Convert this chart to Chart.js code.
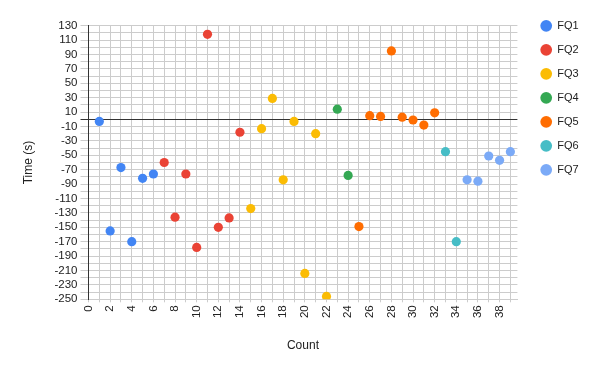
<!DOCTYPE html>
<html>
<head>
<meta charset="utf-8">
<script src="https://cdn.jsdelivr.net/npm/chart.js@4/dist/chart.umd.min.js"></script>
<style>
  html, body { margin: 0; padding: 0; background: #fff; }
  #wrap { width: 600px; height: 371px; position: relative; }
</style>
</head>
<body>
<div id="wrap"><canvas id="c" width="600" height="371"></canvas></div>
<script>
const seriesNames = ['FQ1', 'FQ2', 'FQ3', 'FQ4', 'FQ5', 'FQ6', 'FQ7'];
const seriesColors = ['#4285F4', '#EA4335', '#FBBC04', '#34A853', '#FF6D01', '#46BDC6', '#7BAAF7'];

const fq1Counts = [1, 2, 3, 4, 5, 6];
const fq1Times  = [-3, -155, -67, -170, -82, -76];
const fq2Counts = [7, 8, 9, 10, 11, 12, 13, 14];
const fq2Times  = [-60, -136, -76, -178, 118, -150, -137, -18];
const fq3Counts = [15, 16, 17, 18, 19, 20, 21, 22];
const fq3Times  = [-124, -13, 29, -84, -3, -214, -20, -246];
const fq4Counts = [23, 24];
const fq4Times  = [14, -78];
const fq5Counts = [25, 26, 27, 28, 29, 30, 31, 32];
const fq5Times  = [-149, 5, 4, 95, 3, -1, -8, 9];
const fq6Counts = [33, 34];
const fq6Times  = [-45, -170];
const fq7Counts = [35, 36, 37, 38, 39];
const fq7Times  = [-84, -86, -51, -57, -45];

const xTickLabelStep = 2;   // x labels every 2
const yTickLabelStep = 20;  // y labels every 20
const xTitle = 'Count';
const yTitle = 'Time (s)';

const allCounts = [fq1Counts, fq2Counts, fq3Counts, fq4Counts, fq5Counts, fq6Counts, fq7Counts];
const allTimes = [fq1Times, fq2Times, fq3Times, fq4Times, fq5Times, fq6Times, fq7Times];

const datasets = seriesNames.map((name, i) => ({
  label: name,
  data: allCounts[i].map((c, j) => ({ x: c, y: allTimes[i][j] })),
  backgroundColor: seriesColors[i],
  borderColor: seriesColors[i],
  borderWidth: 0,
  pointRadius: 4.6,
  pointHoverRadius: 4.6,
  pointBorderWidth: 0,
  pointStyle: 'circle'
}));

const tickFont = { family: 'Liberation Sans, Arial, sans-serif', size: 11.5 };
const titleFont = { family: 'Liberation Sans, Arial, sans-serif', size: 12 };

new Chart(document.getElementById('c'), {
  type: 'scatter',
  data: { datasets },
  options: {
    responsive: false,
    animation: false,
    events: [],
    layout: { padding: { left: 0, right: 11.4, top: 7.3, bottom: 0 } },
    plugins: {
      tooltip: { enabled: false },
      legend: {
        position: 'right',
        align: 'start',
        labels: {
          usePointStyle: true,
          pointStyle: 'circle',
          boxHeight: 8.3,
          padding: 13,
          color: '#222',
          font: { family: 'Liberation Sans, Arial, sans-serif', size: 11 }
        }
      }
    },
    scales: {
      x: {
        type: 'linear',
        position: 'bottom',
        min: 0,
        max: 39.65,
        afterFit: s => { s.height = 71.7; },
        ticks: {
          stepSize: 1,
          autoSkip: false,
          includeBounds: false,
          maxRotation: 90,
          minRotation: 90,
          padding: 3,
          color: '#222',
          font: tickFont,
          callback: v => (v % xTickLabelStep === 0 ? String(v) : '')
        },
        grid: {
          color: '#cccccc',
          lineWidth: 1,
          tickLength: 3,
          drawTicks: true
        },
        border: { color: '#cccccc' },
        title: {
          display: true,
          text: xTitle,
          color: '#222',
          font: titleFont,
          padding: { top: 0, bottom: 18 }
        }
      },
      y: {
        type: 'linear',
        position: 'left',
        min: -250,
        max: 130,
        afterFit: s => { s.width = 88.5; },
        ticks: {
          stepSize: 10,
          autoSkip: false,
          includeBounds: false,
          padding: 3,
          color: '#222',
          font: tickFont,
          callback: v => ((v + 250) % yTickLabelStep === 0 ? String(v) : '')
        },
        grid: {
          color: ctx => (ctx.tick && ctx.tick.value === 0 ? '#333333' : '#cccccc'),
          lineWidth: 1,
          tickLength: 8
        },
        border: { color: '#333333' },
        title: {
          display: true,
          text: yTitle,
          color: '#222',
          font: titleFont,
          padding: { top: 21, bottom: 0 }
        }
      },
      padTop: {
        type: 'linear',
        position: 'top',
        display: true,
        afterFit: s => { s.height = 18.4; },
        ticks: { display: false },
        grid: { display: false, drawTicks: false },
        border: { display: false }
      },
      padRight: {
        type: 'linear',
        position: 'right',
        display: true,
        afterFit: s => { s.width = 10.3; },
        ticks: { display: false },
        grid: { display: false, drawTicks: false },
        border: { display: false }
      }
    }
  }
});
</script>
</body>
</html>
